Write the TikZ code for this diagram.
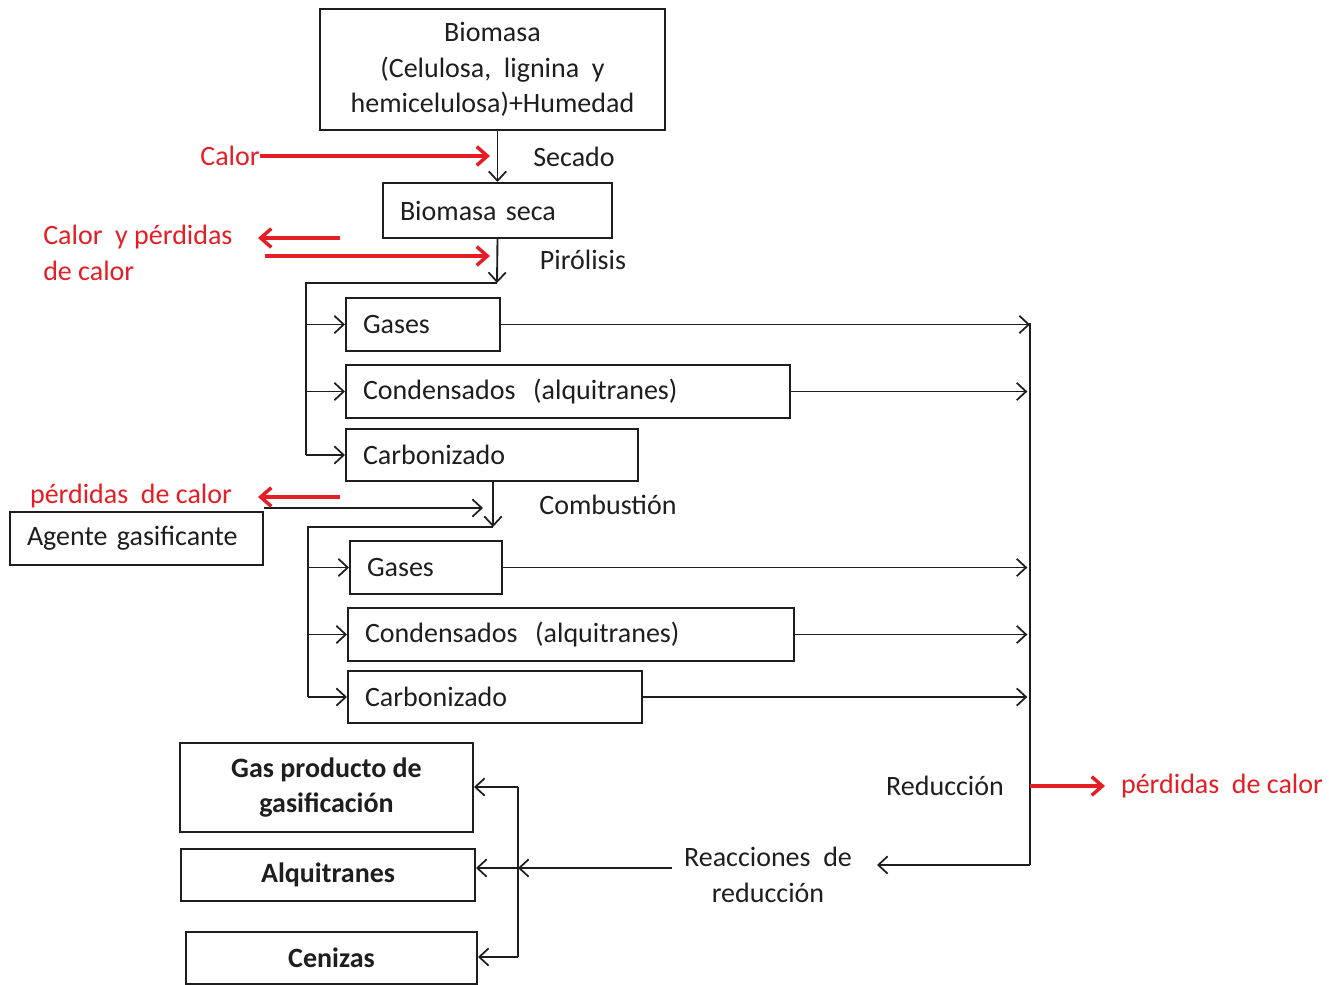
\documentclass[tikz,border=0pt]{standalone}
\usepackage{fontspec}
\setmainfont{Carlito}
\usetikzlibrary{arrows.meta}
\definecolor{rd}{RGB}{228,30,36}
\definecolor{ink}{RGB}{30,30,30}
\begin{document}
\begin{tikzpicture}[x=0.75pt,y=-0.75pt,
  every node/.style={font=\fontsize{21}{26.6}\selectfont, text=ink},
  box/.style={draw=ink, line width=1.5pt, inner ysep=0pt},
  lbox/.style={box, inner xsep=12.75pt, align=left},
  cbox/.style={box, align=center, font=\fontsize{21}{26.6}\selectfont\bfseries},
  lbl/.style={inner sep=0pt},
  rlbl/.style={inner sep=0pt, text=rd},
  ln/.style={draw=ink, line width=1.4pt},
  arr/.style={ln, -{Straight Barb[length=7pt,width=13pt,line width=1.3pt]}},
  rarr/.style={draw=rd, line width=2.8pt, -{Straight Barb[length=8pt,width=14pt,line width=2.6pt]}}
]
\fill[white] (0,0) rectangle (1329,985);
\useasboundingbox (0,0) rectangle (1329,985);

% boxes
\node[box, align=center, minimum width=258.75pt, minimum height=90.75pt] (bio) at (492.5,69.5)
  {Biomasa\\(Celulosa,\ \ lignina\ \ y\\hemicelulosa)+Humedad};
\node[lbox, text width=146.25pt, minimum height=41.25pt] (seca) at (497.5,210.5) {Biomasa seca};
\node[lbox, text width=90pt, minimum height=39.75pt] (gas1) at (423,324.5) {Gases};
\node[lbox, text width=307.5pt, minimum height=39.75pt] (con1) at (568,391.5) {Condensados\hspace{0.3em} (alquitranes)};
\node[lbox, text width=193.5pt, minimum height=39pt] (car1) at (492,455) {Carbonizado};
\node[lbox, text width=164.25pt, minimum height=39.75pt] (agente) at (136.5,538.5) {Agente gasificante};
\node[lbox, text width=88.5pt, minimum height=39.75pt] (gas2) at (426,567.5) {Gases};
\node[lbox, text width=309pt, minimum height=39.75pt] (con2) at (571,634.5) {Condensados\hspace{0.3em} (alquitranes)};
\node[lbox, text width=195pt, minimum height=39pt] (car2) at (495,697) {Carbonizado};
\node[cbox, minimum width=219.75pt, minimum height=66.75pt] (gp) at (326.5,787.5) {Gas producto de\\gasificación};
\node[cbox, minimum width=220.5pt, minimum height=39pt] (alq) at (328,875) {Alquitranes};
\node[cbox, minimum width=218.25pt, minimum height=39pt] (cen) at (331.5,958) {Cenizas};

% labels
\node[lbl] (secado) at (574,157) {Secado};
\node[lbl] (piro) at (583,260) {Pirólisis};
\node[lbl] (comb) at (608,505) {Combustión};
\node[lbl] (reduc) at (945,786) {Reducción};
\node[lbl, align=center] (reac) at (768,875) {Reacciones\ \ de\\reducción};
\node[rlbl] (calor) at (230,156) {Calor};
\node[rlbl, anchor=west, align=left] (cyp) at (43,253) {Calor\ \ y pérdidas\\de calor};
\node[rlbl] (pc1) at (131,496) {pérdidas\ \ de calor};
\node[rlbl] (pc2) at (1222,786) {pérdidas\ \ de calor};

% coordinates
\coordinate (p1) at (497,283);
\coordinate (b1) at (306,283);
\coordinate (p2) at (493,527);
\coordinate (b2) at (308,527);
\coordinate (r1) at (1030,323);
\coordinate (r2) at (1030,865);
\coordinate (rt) at (877,865);
\coordinate (v1) at (518,868);
\coordinate (vt) at (518,787);
\coordinate (vb) at (518,957);
\coordinate (h1) at (490,156);
\coordinate (h2a) at (340,238);
\coordinate (h2b) at (258,238);
\coordinate (h3a) at (265,256);
\coordinate (h3b) at (490,256);
\coordinate (h4a) at (340,497);
\coordinate (h4b) at (258,497);
\coordinate (ag) at (483,508);
\coordinate (rd1) at (1105,786);

% main flow
\draw[arr] (bio.south -| seca.north) -- (seca.north);
\draw[arr] (seca.south) -- (p1);
\draw[ln] (p1) -- (b1) -- (b1 |- car1.west);
\draw[arr] (b1 |- gas1.west) -- (gas1.west);
\draw[arr] (b1 |- con1.west) -- (con1.west);
\draw[arr] (b1 |- car1.west) -- (car1.west);
\draw[arr] (car1.south -| p2) -- (p2);
\draw[arr] (agente.north east |- ag) -- (ag);
\draw[ln] (p2) -- (b2) -- (b2 |- car2.west);
\draw[arr] (b2 |- gas2.west) -- (gas2.west);
\draw[arr] (b2 |- con2.west) -- (con2.west);
\draw[arr] (b2 |- car2.west) -- (car2.west);

% collector
\draw[arr] (gas1.east) -- (gas1.east -| r1);
\draw[arr] (con1.east) -- ([xshift=-2pt]con1.east -| r1);
\draw[arr] (gas2.east) -- ([xshift=-2pt]gas2.east -| r1);
\draw[arr] (con2.east) -- ([xshift=-2pt]con2.east -| r1);
\draw[arr] (car2.east) -- ([xshift=-2pt]car2.east -| r1);
\draw[ln] (r1) -- (r2);
\draw[arr] (r2) -- (rt);

% reduction outputs
\draw[arr] ([xshift=-9pt]reac.west |- v1) -- (v1);
\draw[ln] (vt) -- (vb);
\draw[arr] (vt) -- (gp.east |- vt);
\draw[arr] (v1) -- (alq.east |- v1);
\draw[arr] (vb) -- (cen.east |- vb);

% heat arrows
\draw[rarr] (calor.east) -- (h1);
\draw[rarr] (h2a) -- (h2b);
\draw[rarr] (h3a) -- (h3b);
\draw[rarr] (h4a) -- (h4b);
\draw[rarr] (reduc.east -| r1) -- (rd1);
\end{tikzpicture}
\end{document}
